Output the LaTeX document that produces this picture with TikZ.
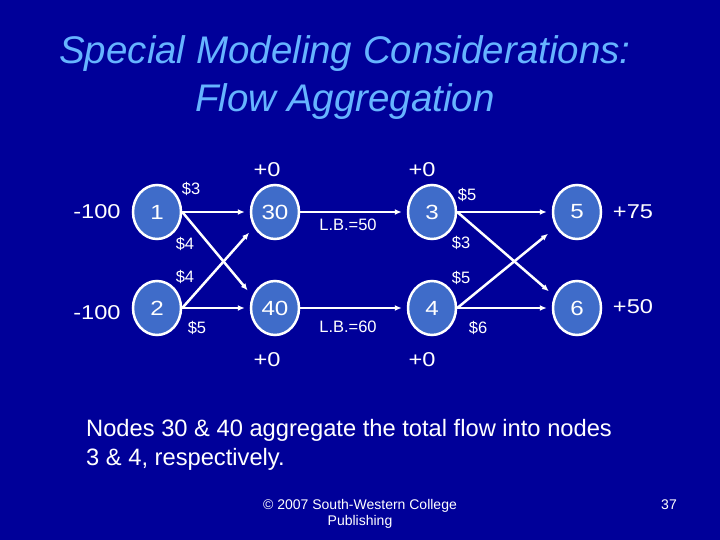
\documentclass[tikz,border=0pt]{standalone}
\usepackage{fontspec}
\setmainfont{Liberation Sans}
\usetikzlibrary{shapes.geometric,arrows.meta}
\definecolor{bg}{RGB}{0,0,153}
\definecolor{nodefill}{RGB}{63,108,201}
\definecolor{titleblue}{RGB}{102,180,255}
\newcommand\wtxt[1]{\scalebox{1.18}[1]{#1}}
\tikzset{
  netnode/.style={ellipse, draw=white, line width=2.5pt, fill=nodefill, minimum width=48pt, minimum height=54pt, inner sep=0pt, text=white, font=\fontsize{20.5}{24}\selectfont},
  bigtxt/.style={text=white, inner sep=0pt, font=\fontsize{20}{24}\selectfont},
  smalltxt/.style={text=white, inner sep=0pt, font=\fontsize{16.5}{18}\selectfont},
  flow/.style={draw=white, line width=2.5pt, -{Latex[length=7pt,width=6pt]}, shorten >=5pt}
}
\begin{document}
\begin{tikzpicture}[x=1pt,y=-1pt]
\fill[bg] (0,0) rectangle (720,540);
\useasboundingbox (0,0) rectangle (720,540);
% title
\node[anchor=base, align=center, text=titleblue, inner sep=0pt,
      font=\fontsize{38.5}{48.5}\selectfont\itshape] (title) at (345,112)
  {Special Modeling Considerations:\\Flow Aggregation};
% nodes
\node[netnode] (n1) at (157,212) {\wtxt{1}};
\node[netnode] (n2) at (157,308) {\wtxt{2}};
\node[netnode] (n30) at (275,212) {\wtxt{30}};
\node[netnode] (n40) at (275,308) {\wtxt{40}};
\node[netnode] (n3) at (432,212) {\wtxt{3}};
\node[netnode] (n4) at (432,308) {\wtxt{4}};
\node[netnode] (n5) at (577,212) {\wtxt{5}};
\node[netnode] (n6) at (577,308) {\wtxt{6}};
% arcs
\draw[flow] (n1.east) -- (n30.west);
\draw[flow, shorten >=7pt] (n1.east) -- (n40.152);
\draw[flow, shorten >=7pt] (n2.east) -- (n30.216);
\draw[flow] (n2.east) -- (n40.west);
\draw[flow] (n30.east) -- (n3.west);
\draw[flow] (n40.east) -- (n4.west);
\draw[flow] (n3.east) -- (n5.west);
\draw[flow, shorten >=7pt] (n3.east) -- (n6.152);
\draw[flow, shorten >=10pt] (n4.east) -- (n5.216);
\draw[flow] (n4.east) -- (n6.west);
% supplies / demands
\node[bigtxt] (s1) at (97,212) {\wtxt{-100}};
\node[bigtxt] (s2) at (97,313) {\wtxt{-100}};
\node[bigtxt] (s30) at (267,170) {\wtxt{+0}};
\node[bigtxt] (s40) at (267,360) {\wtxt{+0}};
\node[bigtxt] (s3) at (422,170) {\wtxt{+0}};
\node[bigtxt] (s4) at (422,360) {\wtxt{+0}};
\node[bigtxt] (s5) at (633,212) {\wtxt{+75}};
\node[bigtxt] (s6) at (633,307) {\wtxt{+50}};
% costs
\node[smalltxt] (c13) at (191,189) {\$3};
\node[smalltxt] (c140) at (185,244) {\$4};
\node[smalltxt] (c230) at (185,277) {\$4};
\node[smalltxt] (c240) at (197,328) {\$5};
\node[smalltxt] (c35) at (467,195) {\$5};
\node[smalltxt] (c36) at (461,243) {\$3};
\node[smalltxt] (c45) at (461,278) {\$5};
\node[smalltxt] (c46) at (478,328) {\$6};
\node[smalltxt] (lb1) at (348,225) {L.B.=50};
\node[smalltxt] (lb2) at (348,327) {L.B.=60};
% body text
\node[anchor=base west, align=left, text=white, inner sep=0pt,
      font=\fontsize{23.7}{29}\selectfont] (body) at (86,465)
  {Nodes 30 \& 40 aggregate the total flow into nodes\\3 \& 4, respectively.};
% footer
\node[anchor=base, align=center, text=white, inner sep=0pt,
      font=\fontsize{14}{16}\selectfont] (foot) at (360,525)
  {\textcopyright{} 2007 South-Western College\\Publishing};
\node[anchor=base, text=white, inner sep=0pt, font=\fontsize{14}{16}\selectfont] (page) at (669,509) {37};
\end{tikzpicture}
\end{document}
